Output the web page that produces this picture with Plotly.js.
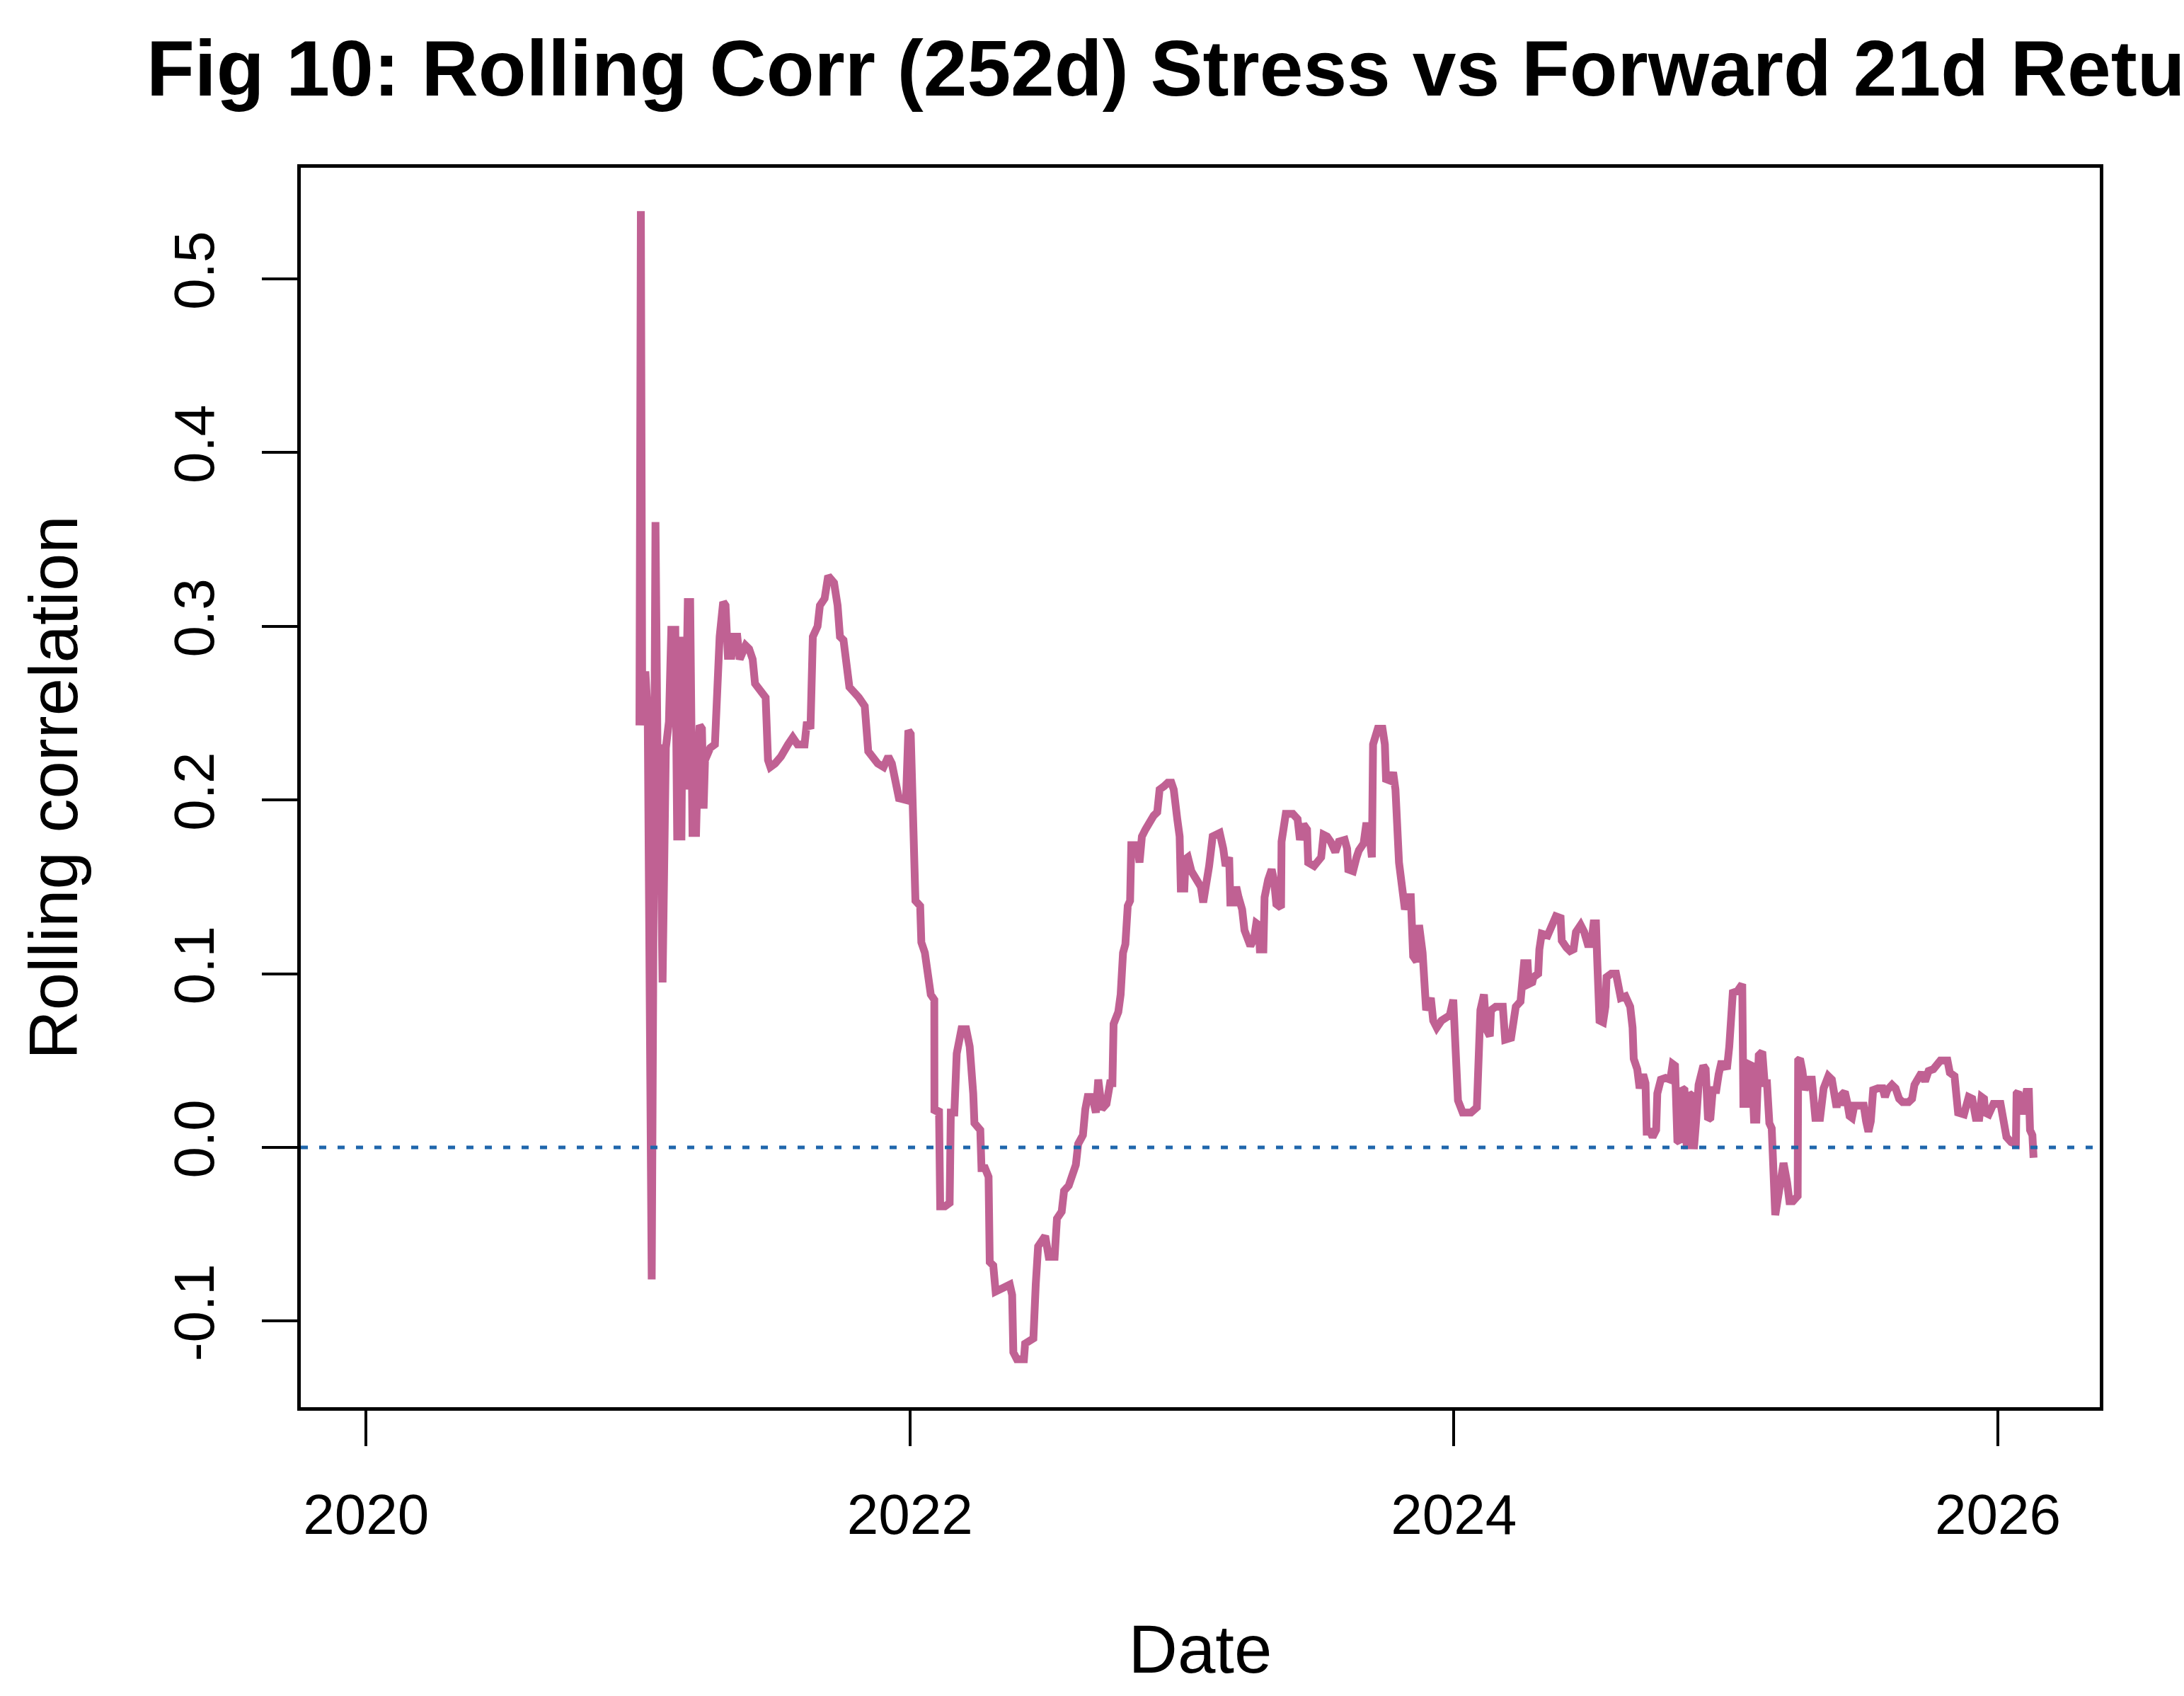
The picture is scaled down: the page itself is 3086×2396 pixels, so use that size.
<!DOCTYPE html>
<html>
<head>
<meta charset="utf-8">
<script src="https://cdn.plot.ly/plotly-3.0.1.min.js"></script>
<style>
  html, body { margin: 0; padding: 0; background: #ffffff; }
  #chart { width: 3086px; height: 2396px; }
</style>
</head>
<body>
<div id="chart"></div>
<script>
// ---- Data (decimal year, rolling correlation) ----
const dateYears = [
  2021.0053,2021.0105,2021.0157,2021.0270,2021.0357,2021.0504,2021.0643,2021.0729,2021.0790,2021.0903,
  2021.1024,2021.1137,2021.1224,2021.1371,2021.1441,2021.1597,2021.1657,2021.1718,2021.1831,2021.1918,
  2021.2004,2021.2135,2021.2204,2021.2265,2021.2351,2021.2412,2021.2464,2021.2655,2021.2828,2021.2915,
  2021.3002,2021.3132,2021.3219,2021.3305,2021.3436,2021.3522,2021.3652,2021.3739,2021.3869,2021.3956,
  2021.4086,2021.4216,2021.4303,2021.4563,2021.4693,2021.4780,2021.4867,2021.5040,2021.5257,2021.5517,
  2021.5691,2021.5864,2021.6125,2021.6211,2021.6341,2021.6428,2021.6602,2021.6688,2021.6862,2021.6992,
  2021.7209,2021.7339,2021.7426,2021.7556,2021.7686,2021.7773,2021.8120,2021.8337,2021.8466,2021.8640,
  2021.8813,2021.9030,2021.9204,2021.9334,2021.9464,2021.9594,
  2021.9854,2021.9941,2022.0028,2022.0114,2022.0201,2022.0375,2022.0418,2022.0548,2022.0765,2022.0895,
  2022.0900,2022.1068,2022.1112,2022.1285,2022.1459,2022.1502,2022.1632,2022.1719,2022.1893,2022.2067,
  2022.2196,2022.2326,2022.2370,2022.2586,2022.2630,2022.2760,2022.2890,2022.2933,2022.3063,2022.3150,
  2022.3410,2022.3671,2022.3757,2022.3801,2022.3931,2022.4191,2022.4234,2022.4538,2022.4625,2022.4712,
  2022.4972,2022.5102,2022.5319,2022.5405,2022.5579,2022.5666,2022.5839,2022.5926,2022.6100,2022.6186,
  2022.6360,2022.6447,2022.6534,2022.6707,2022.6837,2022.6924,2022.7054,2022.7227,2022.7357,2022.7444,
  2022.7487,2022.7661,2022.7747,2022.7834,2022.7921,2022.8008,2022.8094,2022.8138,2022.8355,2022.8441,
  2022.8528,2022.8658,2022.8832,2022.8962,2022.9092,2022.9179,2022.9352,2022.9482,2022.9612,2022.9699,
  2022.9829,2022.9916,2022.9960,2023.0089,2023.0133,2023.0219,2023.0350,2023.0523,2023.0697,
  2023.0783,2023.0913,2023.1000,2023.1130,2023.1390,2023.1520,2023.1607,2023.1737,2023.1781,2023.1911,
  2023.1998,2023.2084,2023.2214,2023.2301,2023.2518,2023.2648,2023.2735,2023.2822,2023.2865,2023.2995,
  2023.3039,2023.3169,2023.3299,2023.3385,2023.3472,2023.3645,2023.3663,2023.3819,2023.4079,2023.4253,
  2023.4340,2023.4470,2023.4600,2023.4643,2023.4860,2023.5120,2023.5207,2023.5337,2023.5467,2023.5640,
  2023.5770,2023.5987,2023.6074,2023.6118,2023.6291,2023.6421,2023.6508,2023.6681,2023.6768,2023.6855,
  2023.6985,2023.7028,2023.7202,2023.7375,2023.7462,2023.7505,2023.7679,2023.7766,2023.7852,2023.7982,
  2023.8069,2023.8199,2023.8329,2023.8416,2023.8503,2023.8633,2023.8720,2023.8850,2023.8980,2023.9153,
  2023.9240,2023.9370,2023.9544,2023.9847,2023.9977,2024.0151,2024.0324,2024.0628,2024.0845,2024.0975,
  2024.1105,2024.1192,2024.1322,2024.1365,2024.1539,2024.1799,2024.1886,2024.2103,2024.2276,2024.2450,
  2024.2580,2024.2710,2024.2753,2024.2883,2024.2926,2024.3100,2024.3143,2024.3230,2024.3447,2024.3577,
  2024.3751,2024.3924,2024.3967,2024.4141,2024.4271,2024.4401,2024.4488,2024.4661,2024.4791,2024.4921,
  2024.5052,2024.5138,2024.5225,2024.5268,2024.5355,2024.5485,2024.5572,2024.5615,2024.5789,2024.5962,
  2024.6049,2024.6136,2024.6309,2024.6483,2024.6570,2024.6613,2024.6743,2024.6830,2024.6960,2024.7046,
  2024.7090,2024.7220,2024.7307,2024.7437,2024.7480,2024.7610,2024.7784,2024.7957,2024.8044,2024.8131,
  2024.8218,2024.8304,2024.8391,2024.8478,2024.8565,2024.8651,2024.8738,2024.8825,2024.8912,2024.8998,
  2024.9172,2024.9258,2024.9345,2024.9432,2024.9519,2024.9649,2024.9736,2024.9822,2024.9952,2025.0039,
  2025.0126,2025.0256,2025.0429,2025.0603,2025.0646,2025.0776,2025.0820,2025.0950,2025.1036,2025.1123,
  2025.1210,2025.1340,2025.1427,2025.1513,2025.1600,2025.1687,2025.1817,2025.1904,2025.2034,2025.2121,
  2025.2251,2025.2338,2025.2468,2025.2641,2025.2659,2025.2728,2025.2815,2025.2901,2025.3031,2025.3162,
  2025.3292,2025.3465,2025.3595,2025.3769,2025.3899,2025.3986,2025.4072,2025.4159,
  2025.4203,2025.4246,2025.4376,2025.4463,2025.4549,2025.4636,2025.4723,2025.4853,2025.5070,2025.5157,
  2025.5243,2025.5330,2025.5417,2025.5590,2025.5764,2025.5851,2025.5938,2025.6111,2025.6241,2025.6371,
  2025.6501,2025.6718,2025.6848,2025.6935,2025.7065,2025.7195,2025.7325,2025.7455,2025.7629,2025.7759,
  2025.7889,2025.8149,2025.8236,2025.8409,2025.8453,2025.8540,2025.8756,2025.8843,2025.8930,2025.9060,
  2025.9190,2025.9320,2025.9407,2025.9494,2025.9537,2025.9667,2025.9840,2026.0101,2026.0187,2026.0274,
  2026.0318,2026.0491,2026.0665,2026.0691,2026.0751,2026.0838,2026.0925,2026.1055,2026.1142,2026.1185,
  2026.1272,2026.1315
];
const rollingCorr = [
  0.243,0.539,0.243,0.274,0.250,-0.076,0.360,0.206,0.232,0.095,
  0.230,0.245,0.298,0.298,0.179,0.179,0.294,0.206,0.314,0.314,
  0.181,0.181,0.223,0.243,0.241,0.195,0.223,0.230,0.232,0.272,
  0.294,0.314,0.312,0.283,0.283,0.294,0.294,0.281,0.285,0.289,
  0.287,0.281,0.267,0.261,0.259,0.223,0.219,0.221,0.225,0.232,
  0.236,0.232,0.232,0.245,0.241,0.294,0.300,0.312,0.316,0.329,
  0.325,0.312,0.294,0.292,0.276,0.265,0.259,0.254,0.228,0.225,
  0.221,0.219,0.225,0.221,0.210,0.201,
  0.200,0.240,0.238,0.200,0.142,0.139,0.118,0.112,0.088,0.085,
  0.020,0.022,-0.034,-0.034,-0.032,0.020,0.020,0.054,0.068,0.068,
  0.058,0.031,0.014,0.010,-0.012,-0.012,-0.017,-0.066,-0.068,-0.083,
  -0.081,-0.079,-0.085,-0.118,-0.122,-0.122,-0.113,-0.110,-0.079,-0.057,
  -0.051,-0.063,-0.063,-0.041,-0.037,-0.025,-0.022,-0.017,-0.010,0.002,
  0.007,0.022,0.029,0.029,0.020,0.039,0.022,0.025,0.037,0.037,
  0.071,0.078,0.088,0.112,0.117,0.139,0.142,0.174,0.174,0.164,
  0.179,0.183,0.188,0.191,0.193,0.206,0.208,0.210,0.210,0.206,
  0.189,0.179,0.149,0.149,0.166,0.167,0.159,0.154,0.150,
  0.141,0.159,0.162,0.179,0.181,0.172,0.162,0.167,0.141,0.141,
  0.150,0.144,0.137,0.125,0.116,0.120,0.129,0.128,0.114,0.114,
  0.144,0.154,0.160,0.154,0.140,0.138,0.176,0.192,0.192,0.189,
  0.177,0.186,0.183,0.164,0.162,0.167,0.180,0.179,0.176,0.170,
  0.176,0.177,0.172,0.160,0.159,0.167,0.171,0.175,0.185,0.185,
  0.167,0.232,0.241,0.241,0.232,0.212,0.211,0.216,0.206,0.164,
  0.155,0.137,0.144,0.144,0.110,0.107,0.128,0.112,0.079,0.086,
  0.073,0.069,0.073,0.076,0.085,0.027,0.020,0.020,0.023,0.079,
  0.088,0.068,0.064,0.079,0.081,0.081,0.062,0.063,0.081,0.084,
  0.106,0.106,0.094,0.095,0.098,0.100,0.114,0.123,0.122,0.126,
  0.133,0.132,0.119,0.115,0.113,0.114,0.124,0.128,0.124,0.117,
  0.117,0.129,0.129,0.109,0.073,0.072,0.081,0.098,0.100,0.100,
  0.089,0.086,0.087,0.081,0.069,0.051,0.045,0.034,0.042,0.037,
  0.009,0.009,0.006,0.010,0.031,0.039,0.040,0.039,0.048,0.047,
  0.004,0.003,0.034,0.033,-0.001,0.031,0.030,-0.001,0.016,0.036,
  0.047,0.045,0.016,0.017,0.033,0.033,0.042,0.048,0.048,0.045,
  0.058,0.089,0.090,0.094,0.025,0.025,0.048,0.047,0.016,0.016,
  0.053,0.055,0.037,0.037,0.014,0.011,-0.039,-0.030,-0.023,-0.009,
  -0.020,-0.031,-0.031,-0.028,0.050,0.051,0.044,0.033,0.039,0.039,
  0.017,0.017,0.034,0.041,0.039,0.027,0.023,0.031,
  0.024,0.030,0.032,0.026,0.018,0.017,0.024,0.024,0.024,0.015,
  0.009,0.015,0.033,0.034,0.034,0.029,0.033,0.036,0.034,0.028,
  0.026,0.026,0.028,0.036,0.040,0.043,0.038,0.044,0.045,0.048,
  0.050,0.050,0.043,0.041,0.026,0.020,0.019,0.027,0.029,0.028,
  0.017,0.017,0.029,0.028,0.020,0.019,0.025,0.025,0.017,0.015,
  0.006,0.003,0.002,0.031,0.032,0.021,0.021,0.032,0.032,0.010,
  0.007,-0.006
];
const xTickVals = [2020, 2022, 2024, 2026];
const xTickText = ["2020", "2022", "2024", "2026"];
const yTickVals = [-0.1, 0.0, 0.1, 0.2, 0.3, 0.4, 0.5];
const yTickText = ["-0.1", "0.0", "0.1", "0.2", "0.3", "0.4", "0.5"];
const referenceLevel = 0;

const FONT = "Liberation Sans, Arial, Helvetica, sans-serif";

const trace = {
  type: "scatter",
  mode: "lines",
  x: dateYears,
  y: rollingCorr,
  line: { color: "#C06193", width: 11, shape: "linear" },
  hoverinfo: "skip",
  showlegend: false
};

const layout = {
  width: 3086,
  height: 2396,
  paper_bgcolor: "#ffffff",
  plot_bgcolor: "#ffffff",
  margin: { l: 425, r: 119, t: 237, b: 408, pad: 0 },
  showlegend: false,
  font: { family: FONT, color: "#000000", size: 80 },
  title: {
    text: "<b>Fig 10: Rolling Corr (252d) Stress vs Forward 21d Returns</b>",
    font: { family: FONT, size: 111, color: "#000000" },
    xref: "container", x: 207 / 3086, xanchor: "left",
    yref: "container", y: 1 - 96 / 2396, yanchor: "middle"
  },
  xaxis: {
    range: [2019.760, 2026.375],
    tickmode: "array",
    tickvals: xTickVals,
    ticktext: xTickText,
    ticks: "outside",
    ticklen: 50,
    tickwidth: 4,
    tickcolor: "#000000",
    tickfont: { family: FONT, size: 80, color: "#000000" },
    ticklabelstandoff: 28,
    showline: true,
    mirror: true,
    linecolor: "#000000",
    linewidth: 5,
    showgrid: false,
    zeroline: false,
    title: {
      text: "Date",
      font: { family: FONT, size: 96, color: "#000000" },
      standoff: 114
    }
  },
  yaxis: {
    range: [-0.1496, 0.5640],
    tickmode: "array",
    tickvals: yTickVals,
    ticktext: yTickText,
    tickangle: -90,
    ticks: "outside",
    ticklen: 50,
    tickwidth: 4,
    tickcolor: "#000000",
    tickfont: { family: FONT, size: 80, color: "#000000" },
    ticklabelstandoff: 36,
    showline: true,
    mirror: true,
    linecolor: "#000000",
    linewidth: 5,
    showgrid: false,
    zeroline: false,
    title: {
      text: "Rolling correlation",
      font: { family: FONT, size: 96, color: "#000000" },
      standoff: 90
    }
  },
  shapes: [{
    type: "line",
    xref: "paper", x0: 0, x1: 1,
    yref: "y", y0: referenceLevel, y1: referenceLevel,
    line: { color: "#1F66AC", width: 5, dash: "10px,16px" },
    layer: "above"
  }]
};

Plotly.newPlot("chart", [trace], layout, { staticPlot: true, displayModeBar: false, responsive: false });
</script>
</body>
</html>
